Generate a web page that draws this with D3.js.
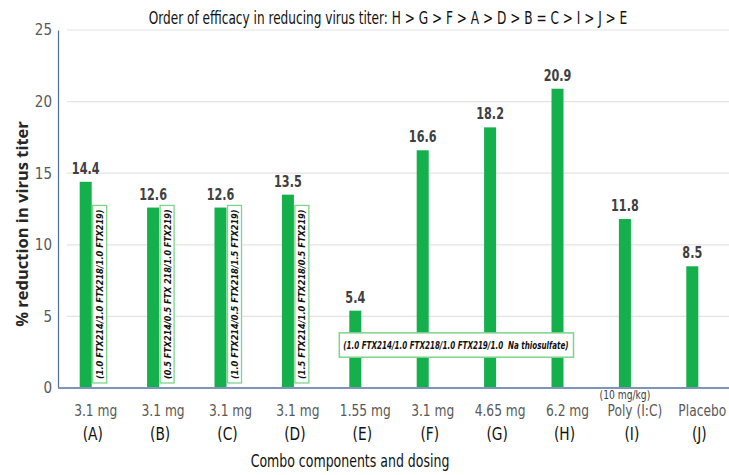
<!DOCTYPE html>
<html>
<head>
<meta charset="utf-8">
<script src="https://cdn.jsdelivr.net/npm/d3@7"></script>
<style>
  body { margin: 0; background: #fff; }
  .narrow { font-family: "Liberation Sans Narrow", "DejaVu Sans Condensed", "Arial Narrow", sans-serif; }
</style>
</head>
<body>
<div id="chart"></div>
<script>
// chart data
var categories = ["A", "B", "C", "D", "E", "F", "G", "H", "I", "J"];
var values = [14.4, 12.6, 12.6, 13.5, 5.4, 16.6, 18.2, 20.9, 11.8, 8.5];
var doses = ["3.1 mg", "3.1 mg", "3.1 mg", "3.1 mg", "1.55 mg", "3.1 mg", "4.65 mg", "6.2 mg", "Poly (I:C)", "Placebo"];
var comboNotes = [
    "(1.0 FTX214/1.0 FTX218/1.0 FTX219)",
    "(0.5 FTX214/0.5 FTX 218/1.0 FTX219)",
    "(1.0 FTX214/0.5 FTX218/1.5 FTX219)",
    "(1.5 FTX214/1.0 FTX218/0.5 FTX219)"
];
var mixNote = "(1.0 FTX214/1.0 FTX218/1.0 FTX219/1.0  Na thiosulfate)";
var yTicks = [0, 5, 10, 15, 20, 25];
var title = "Order of efficacy in reducing virus titer: H > G > F > A > D > B = C > I > J > E";

var svgWidth = 729;
var svgHeight = 475;
var barColor = "#13b04b";
var boxColor = "#7fd48c";

var svg = d3.select("#chart")
    .append("svg")
    .attr("width", svgWidth)
    .attr("height", svgHeight);

var x = d3.scaleBand()
    .domain(categories)
    .range([62, 736]);

var y = d3.scaleLinear()
    .domain([0, 25])
    .range([388, 30]);

var barW = 12;
function barLeft(c) { return x(c) + x.bandwidth() / 2 - 16; }
// squeeze text horizontally, the condensed font is still wider than the original
function squeeze(px, py, sx) { return "translate(" + px + "," + py + ") scale(" + sx + ",1)"; }

// gridlines
svg.append("g")
    .selectAll("line")
    .data(yTicks.filter(function(d) { return d > 0; }))
    .enter()
    .append("line")
    .attr("x1", 67)
    .attr("x2", svgWidth)
    .attr("y1", function(d) { return y(d); })
    .attr("y2", function(d) { return y(d); })
    .attr("stroke", "#e3e3e3")
    .attr("stroke-width", 1.2);

// y axis
var yAxis = svg.append("g")
    .attr("class", "narrow")
    .attr("transform", "translate(58,0)")
    .call(d3.axisLeft(y).tickValues(yTicks).tickSize(0).tickPadding(6));
yAxis.select(".domain").attr("stroke", "#4f6fa8").attr("stroke-width", 1.2);
yAxis.selectAll("text")
    .attr("font-size", 15)
    .attr("fill", "#595959")
    .attr("font-family", "Liberation Sans Narrow, DejaVu Sans Condensed, sans-serif");

// bars
svg.append("g")
    .selectAll("rect")
    .data(values)
    .enter()
    .append("rect")
    .attr("x", function(d, i) { return barLeft(categories[i]); })
    .attr("y", function(d) { return y(d); })
    .attr("width", barW)
    .attr("height", function(d) { return y(0) - y(d); })
    .attr("fill", barColor);

// value labels
svg.append("g")
    .selectAll("text")
    .data(values)
    .enter()
    .append("text")
    .attr("class", "narrow")
    .attr("transform", function(d, i) {
        return squeeze(barLeft(categories[i]) + barW / 2, y(d) - 8, 0.78);
    })
    .attr("text-anchor", "middle")
    .attr("font-size", 16)
    .attr("font-weight", "bold")
    .attr("fill", "#404040")
    .text(function(d) { return d.toFixed(1); });

// vertical combo note boxes beside A-D
var boxTop = y(12.75), boxBottom = y(0.35);
var notes = svg.append("g")
    .selectAll("g")
    .data(comboNotes)
    .enter()
    .append("g")
    .attr("transform", function(d, i) {
        return "translate(" + (barLeft(categories[i]) + barW + 1) + ",0)";
    });
notes.append("rect")
    .attr("x", 0)
    .attr("y", boxTop)
    .attr("width", 14)
    .attr("height", boxBottom - boxTop)
    .attr("fill", "#fff")
    .attr("stroke", boxColor)
    .attr("stroke-width", 1.3);
notes.append("text")
    .attr("class", "narrow")
    .attr("transform", "translate(10.5," + (boxBottom - 4) + ") rotate(-90)")
    .attr("font-size", 9.5)
    .attr("font-weight", "bold")
    .attr("font-style", "italic")
    .attr("fill", "#111")
    .attr("textLength", boxBottom - boxTop - 8)
    .attr("lengthAdjust", "spacingAndGlyphs")
    .text(function(d) { return d; });

// horizontal note box across E-H
var mixLeft = barLeft("E") - 10;
var mixRight = barLeft("H") + barW + 10;
svg.append("rect")
    .attr("x", mixLeft)
    .attr("y", y(3.85))
    .attr("width", mixRight - mixLeft)
    .attr("height", y(2.15) - y(3.85))
    .attr("fill", "#fff")
    .attr("stroke", boxColor)
    .attr("stroke-width", 1.5);
svg.append("text")
    .attr("class", "narrow")
    .attr("x", mixLeft + 4)
    .attr("y", y(3) + 4)
    .attr("font-size", 10.5)
    .attr("font-weight", "bold")
    .attr("font-style", "italic")
    .attr("fill", "#111")
    .attr("textLength", mixRight - mixLeft - 9)
    .attr("lengthAdjust", "spacingAndGlyphs")
    .attr("xml:space", "preserve")
    .text(mixNote);

// baseline
svg.append("line")
    .attr("x1", 58)
    .attr("x2", svgWidth)
    .attr("y1", y(0))
    .attr("y2", y(0))
    .attr("stroke", "#7f95b8")
    .attr("stroke-width", 2);

// category labels
var xl = svg.append("g").attr("class", "narrow");
xl.selectAll(".dose")
    .data(categories)
    .enter()
    .append("text")
    .attr("class", "dose")
    .attr("transform", function(d) { return squeeze(x(d) + x.bandwidth() / 2, 416, 0.88); })
    .attr("text-anchor", "middle")
    .attr("font-size", 15.5)
    .attr("fill", "#595959")
    .text(function(d, i) { return doses[i]; });
xl.selectAll(".letter")
    .data(categories)
    .enter()
    .append("text")
    .attr("class", "letter")
    .attr("transform", function(d) { return squeeze(x(d) + x.bandwidth() / 2 - 3, 440, 0.85); })
    .attr("text-anchor", "middle")
    .attr("font-size", 18)
    .attr("fill", "#111")
    .text(function(d) { return "(" + d + ")"; });
xl.append("text")
    .attr("transform", squeeze(barLeft("I") + barW / 2, 399, 0.85))
    .attr("text-anchor", "middle")
    .attr("font-size", 12)
    .attr("fill", "#404040")
    .text("(10 mg/kg)");

// axis titles
svg.append("text")
    .attr("class", "narrow")
    .attr("transform", squeeze(350, 467, 0.82))
    .attr("text-anchor", "middle")
    .attr("font-size", 17)
    .attr("fill", "#111")
    .text("Combo components and dosing");

svg.append("text")
    .attr("transform", "translate(28,224) rotate(-90)")
    .attr("text-anchor", "middle")
    .attr("font-family", "Open Sans, DejaVu Sans, sans-serif")
    .attr("font-size", 16.5)
    .attr("font-weight", "bold")
    .attr("fill", "#262626")
    .text("% reduction in virus titer");

svg.append("text")
    .attr("class", "narrow")
    .attr("transform", squeeze(388, 24, 0.75))
    .attr("text-anchor", "middle")
    .attr("font-size", 18)
    .attr("fill", "#111")
    .text(title);
</script>
</body>
</html>
